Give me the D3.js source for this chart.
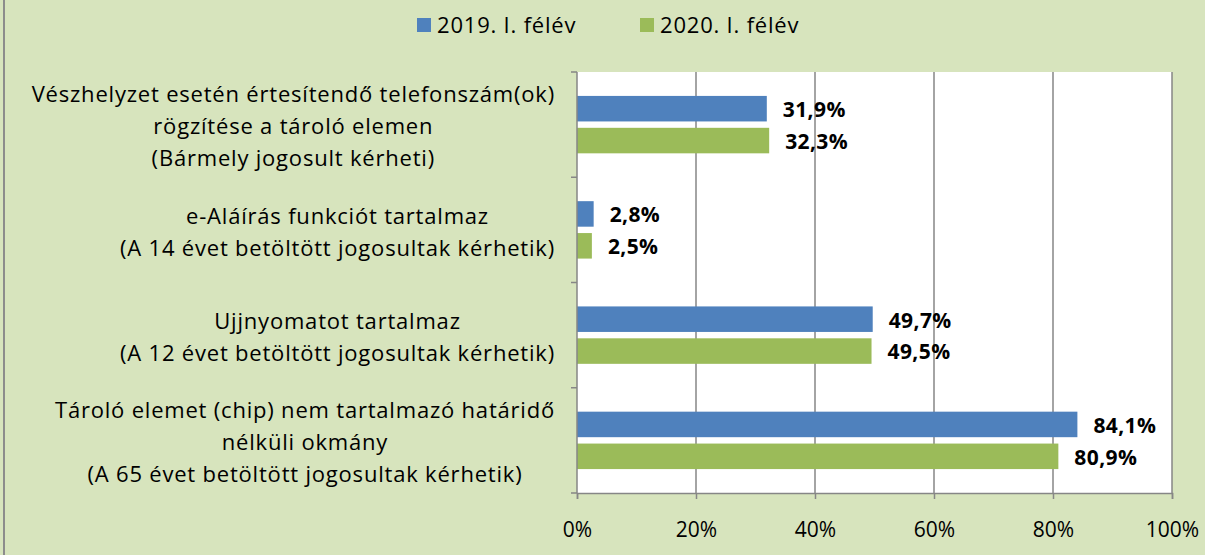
<!DOCTYPE html>
<html lang="hu">
<head>
<meta charset="UTF-8">
<title>Okmány funkciók</title>
<style>
  body { margin: 0; background: #d7e4bd; }
  svg { display: block; }
</style>
</head>
<body>
<script src="https://cdn.jsdelivr.net/npm/d3@7"></script>
<script>
// adatok
const categories = [
  ["Vészhelyzet esetén értesítendő telefonszám(ok)", "rögzítése a tároló elemen", "(Bármely jogosult kérheti)"],
  ["e-Aláírás funkciót tartalmaz", "(A 14 évet betöltött jogosultak kérhetik)"],
  ["Ujjnyomatot tartalmaz", "(A 12 évet betöltött jogosultak kérhetik)"],
  ["Tároló elemet (chip) nem tartalmazó határidő", "nélküli okmány", "(A 65 évet betöltött jogosultak kérhetik)"]
];
const seriesNames = ["2019. I. félév", "2020. I. félév"];
const values2019 = [31.9, 2.8, 49.7, 84.1];
const values2020 = [32.3, 2.5, 49.5, 80.9];
const xTicks = [0, 20, 40, 60, 80, 100];
const colors = ["#4f81bd", "#9bbb59"];

const W = 1205, H = 555;
const font = "'Open Sans', 'Noto Sans', sans-serif";
const gridColor = "#868686";

const svg = d3.select("body").append("svg")
  .attr("width", W).attr("height", H);

// háttér + bal keret
svg.append("rect")
  .attr("width", W).attr("height", H)
  .attr("fill", "#d7e4bd");
svg.append("line")
  .attr("x1", 4).attr("x2", 4).attr("y1", 0).attr("y2", H)
  .attr("stroke", "#8c8c8c").attr("stroke-width", 2);

const plot = { left: 577, right: 1172, top: 72, bottom: 493 };

const x = d3.scaleLinear().domain([0, 100]).range([plot.left, plot.right]);
const y = d3.scaleBand().domain(d3.range(categories.length))
  .range([plot.top, plot.bottom]).paddingInner(0).paddingOuter(0);
const inner = d3.scaleBand().domain([0, 1])
  .range([0, y.bandwidth()]).paddingInner(0.2).paddingOuter(0.75);

// rajzterület
svg.append("rect")
  .attr("x", plot.left).attr("y", plot.top)
  .attr("width", plot.right - plot.left).attr("height", plot.bottom - plot.top)
  .attr("fill", "white");

// rácsvonalak
svg.append("g").selectAll("line")
  .data(xTicks.slice(1))
  .join("line")
  .attr("x1", d => x(d)).attr("x2", d => x(d))
  .attr("y1", plot.top).attr("y2", plot.bottom)
  .attr("stroke", gridColor).attr("stroke-width", 1.5);

// oszlopok
const rows = categories.map((c, i) => [values2019[i], values2020[i]]);
const groups = svg.append("g").selectAll("g")
  .data(rows)
  .join("g")
  .attr("transform", (d, i) => `translate(0,${y(i)})`);

groups.selectAll("rect")
  .data(d => d)
  .join("rect")
  .attr("x", x(0))
  .attr("y", (d, j) => inner(j))
  .attr("width", d => x(d) - x(0))
  .attr("height", inner.bandwidth())
  .attr("fill", (d, j) => colors[j]);

groups.selectAll("text")
  .data(d => d)
  .join("text")
  .attr("x", d => x(d) + 16)
  .attr("y", (d, j) => inner(j) + inner.bandwidth() / 2 + 1)
  .attr("dy", "0.35em")
  .attr("font-family", font)
  .attr("font-weight", "bold")
  .attr("font-size", 21)
  .attr("letter-spacing", 0.4)
  .attr("fill", "#000")
  .text(d => d.toFixed(1).replace(".", ",") + "%");

// x tengely
const xAxis = svg.append("g")
  .attr("transform", `translate(0,${plot.bottom})`)
  .call(d3.axisBottom(x).tickValues(xTicks).tickSize(6).tickFormat(d => d + "%"));
xAxis.select(".domain").attr("stroke", gridColor).attr("stroke-width", 1.5);
xAxis.selectAll(".tick line").attr("stroke", gridColor).attr("stroke-width", 1.5);
xAxis.selectAll(".tick text")
  .attr("font-family", font).attr("font-size", 21).attr("fill", "#000")
  .attr("dy", null).attr("y", 44);

// y tengely
const yEdges = d3.range(categories.length + 1).map(i => plot.top + i * y.step());
svg.append("line")
  .attr("x1", plot.left).attr("x2", plot.left)
  .attr("y1", plot.top).attr("y2", plot.bottom)
  .attr("stroke", gridColor).attr("stroke-width", 1.5);
svg.append("g").selectAll("line")
  .data(yEdges)
  .join("line")
  .attr("x1", plot.left - 6).attr("x2", plot.left)
  .attr("y1", d => d).attr("y2", d => d)
  .attr("stroke", gridColor).attr("stroke-width", 1.5);

// kategória feliratok
const lineH = 32;
const labelRight = 555;
categories.forEach((lines, i) => {
  const g = svg.append("g");
  const cy = y(i) + y.bandwidth() / 2 + 2;
  const t = g.selectAll("text")
    .data(lines)
    .join("text")
    .attr("y", (d, k) => cy + (k - (lines.length - 1) / 2) * lineH)
    .attr("dy", "0.35em")
    .attr("text-anchor", "middle")
    .attr("font-family", font)
    .attr("font-size", 22)
    .attr("letter-spacing", 0.8)
    .attr("fill", "#000")
    .text(d => d);
  const widest = d3.max(t.nodes(), n => n.getComputedTextLength());
  t.attr("x", labelRight - widest / 2);
});

// jelmagyarázat
const legend = svg.append("g");
const legendX = [417, 640];
seriesNames.forEach((name, j) => {
  legend.append("rect")
    .attr("x", legendX[j]).attr("y", 18)
    .attr("width", 14).attr("height", 14)
    .attr("fill", colors[j]);
  legend.append("text")
    .attr("x", legendX[j] + 20).attr("y", 25)
    .attr("dy", "0.35em")
    .attr("font-family", font).attr("font-size", 22)
    .attr("letter-spacing", 0.8).attr("fill", "#000")
    .text(name);
});
</script>
</body>
</html>
